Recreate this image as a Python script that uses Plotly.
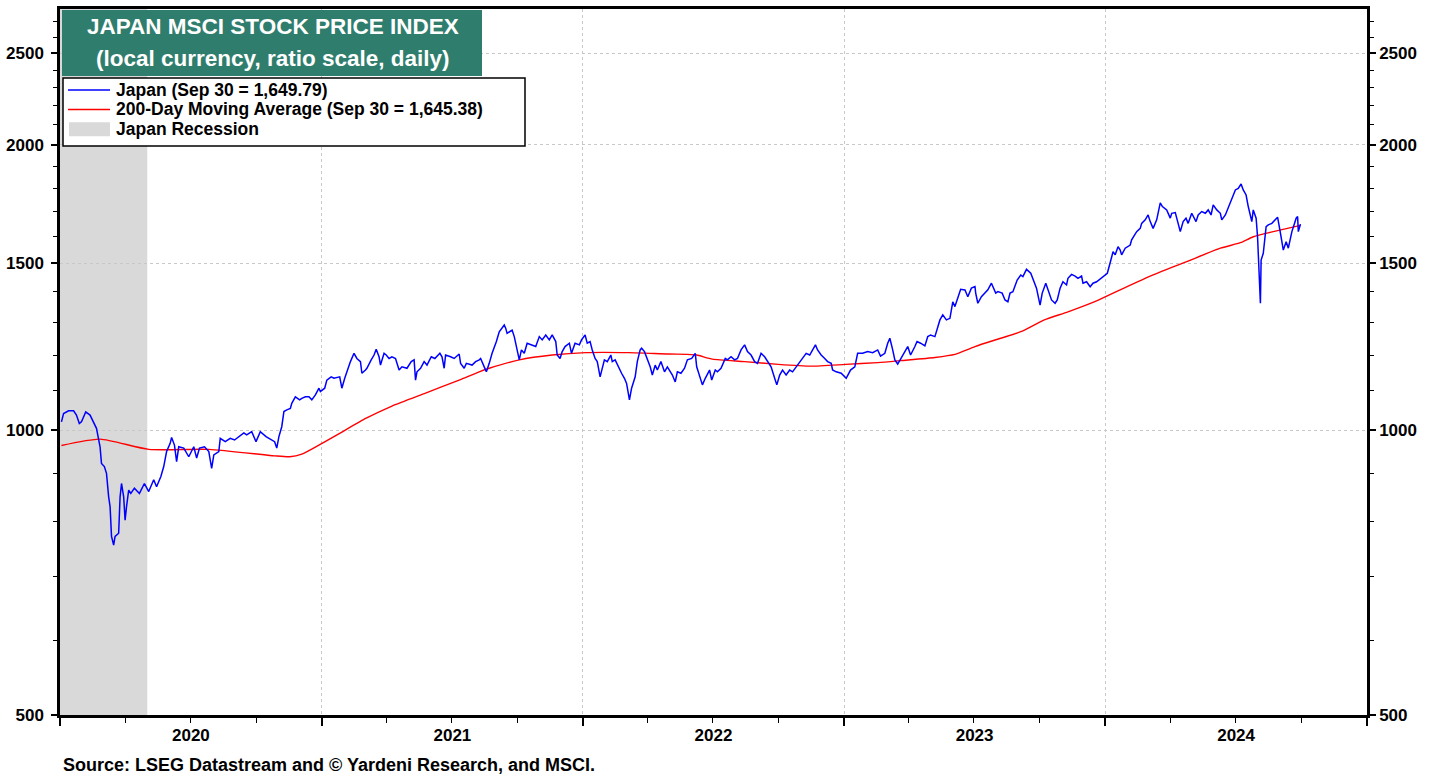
import math
import plotly.graph_objects as go

# ---------------- data ----------------
japan_dates = [
    "2020-01-03","2020-01-06","2020-01-13","2020-01-20","2020-01-24","2020-01-28","2020-01-31","2020-02-06","2020-02-12","2020-02-17",
    "2020-02-21","2020-02-26","2020-02-28","2020-03-03","2020-03-06","2020-03-09","2020-03-11","2020-03-13","2020-03-16","2020-03-18",
    "2020-03-23","2020-03-25","2020-03-27","2020-03-30","2020-04-01","2020-04-03","2020-04-06","2020-04-09","2020-04-14","2020-04-21",
    "2020-04-28","2020-05-04","2020-05-11","2020-05-15","2020-05-21","2020-05-25","2020-05-29","2020-06-03","2020-06-05","2020-06-09",
    "2020-06-12","2020-06-15","2020-06-22","2020-06-29","2020-07-06","2020-07-10","2020-07-14","2020-07-21","2020-07-27","2020-07-31",
    "2020-08-03","2020-08-10","2020-08-12","2020-08-19","2020-08-26","2020-09-01","2020-09-07","2020-09-14","2020-09-18","2020-09-25",
    "2020-10-01","2020-10-07","2020-10-15","2020-10-22","2020-10-27","2020-10-30","2020-11-02","2020-11-06","2020-11-09","2020-11-13",
    "2020-11-18","2020-11-20","2020-11-25","2020-12-01","2020-12-04","2020-12-09","2020-12-14","2020-12-18","2020-12-23","2020-12-28",
    "2020-12-30",
    "2021-01-05","2021-01-08","2021-01-14","2021-01-18","2021-01-26","2021-01-29","2021-02-02","2021-02-05","2021-02-10","2021-02-15",
    "2021-02-19","2021-02-24","2021-02-26","2021-03-03","2021-03-05","2021-03-11","2021-03-15","2021-03-18","2021-03-22","2021-03-24",
    "2021-03-29","2021-04-01","2021-04-05","2021-04-09","2021-04-14","2021-04-19","2021-04-23","2021-04-30","2021-05-06","2021-05-10",
    "2021-05-12","2021-05-14","2021-05-19","2021-05-24","2021-05-28","2021-06-03","2021-06-08","2021-06-15","2021-06-18","2021-06-21",
    "2021-06-23","2021-06-30","2021-07-05","2021-07-12","2021-07-14","2021-07-19","2021-07-22","2021-07-30","2021-08-04","2021-08-09",
    "2021-08-11","2021-08-16","2021-08-19","2021-08-23","2021-08-27","2021-09-02","2021-09-06","2021-09-13","2021-09-15","2021-09-17",
    "2021-09-24","2021-09-27","2021-09-30","2021-10-04","2021-10-07","2021-10-11","2021-10-15","2021-10-22","2021-10-27","2021-11-01",
    "2021-11-05","2021-11-10","2021-11-15","2021-11-19","2021-11-24","2021-11-26","2021-11-30","2021-12-03","2021-12-07","2021-12-13",
    "2021-12-16","2021-12-21","2021-12-27","2021-12-30",
    "2022-01-04","2022-01-07","2022-01-11","2022-01-14","2022-01-18","2022-01-21","2022-01-25","2022-01-31","2022-02-04","2022-02-09",
    "2022-02-11","2022-02-15","2022-02-21","2022-02-24","2022-02-28","2022-03-03","2022-03-07","2022-03-10","2022-03-15","2022-03-18",
    "2022-03-22","2022-03-24","2022-03-28","2022-04-01","2022-04-05","2022-04-08","2022-04-12","2022-04-15","2022-04-20","2022-04-25",
    "2022-04-29","2022-05-06","2022-05-10","2022-05-13","2022-05-18","2022-05-23","2022-05-27","2022-06-02","2022-06-07","2022-06-09",
    "2022-06-13","2022-06-17","2022-06-21","2022-06-27","2022-06-30","2022-07-05","2022-07-08","2022-07-13","2022-07-19","2022-07-22",
    "2022-07-27","2022-08-01","2022-08-05","2022-08-10","2022-08-15","2022-08-19","2022-08-24","2022-08-29","2022-09-02","2022-09-07",
    "2022-09-12","2022-09-16","2022-09-21","2022-09-26","2022-09-29","2022-10-03","2022-10-07","2022-10-12","2022-10-17","2022-10-21",
    "2022-10-26","2022-10-31","2022-11-04","2022-11-09","2022-11-14","2022-11-18","2022-11-22","2022-11-25","2022-11-30","2022-12-05",
    "2022-12-09","2022-12-14","2022-12-16","2022-12-21","2022-12-28",
    "2023-01-04","2023-01-06","2023-01-10","2023-01-16","2023-01-20","2023-01-27","2023-02-03","2023-02-10","2023-02-17","2023-02-21",
    "2023-02-27","2023-03-03","2023-03-06","2023-03-10","2023-03-13","2023-03-17","2023-03-22","2023-03-27","2023-03-31","2023-04-04",
    "2023-04-10","2023-04-13","2023-04-18","2023-04-24","2023-04-28","2023-05-02","2023-05-08","2023-05-11","2023-05-15","2023-05-19",
    "2023-05-24","2023-05-29","2023-06-02","2023-06-05","2023-06-09","2023-06-13","2023-06-19","2023-06-23","2023-06-28","2023-07-03",
    "2023-07-04","2023-07-07","2023-07-12","2023-07-17","2023-07-21","2023-07-26","2023-08-01","2023-08-04","2023-08-10","2023-08-14",
    "2023-08-18","2023-08-21","2023-08-25","2023-08-31","2023-09-05","2023-09-08","2023-09-13","2023-09-19","2023-09-22","2023-09-27",
    "2023-10-02","2023-10-05","2023-10-10","2023-10-13","2023-10-18","2023-10-23","2023-10-26","2023-10-30","2023-11-03","2023-11-08",
    "2023-11-10","2023-11-15","2023-11-20","2023-11-24","2023-11-29","2023-12-01","2023-12-06","2023-12-11","2023-12-15","2023-12-20",
    "2023-12-26","2023-12-29",
    "2024-01-04","2024-01-09","2024-01-12","2024-01-15","2024-01-19","2024-01-22","2024-01-24","2024-01-29","2024-02-01","2024-02-05",
    "2024-02-07","2024-02-13","2024-02-14","2024-02-19","2024-02-21","2024-02-26","2024-03-01","2024-03-04","2024-03-08","2024-03-13",
    "2024-03-18","2024-03-21","2024-03-27","2024-04-01","2024-04-03","2024-04-08","2024-04-11","2024-04-15","2024-04-19","2024-04-23",
    "2024-04-26","2024-05-01","2024-05-07","2024-05-10","2024-05-15","2024-05-20","2024-05-24","2024-05-28","2024-05-31","2024-06-05",
    "2024-06-10","2024-06-12","2024-06-17","2024-06-21","2024-06-26","2024-07-01","2024-07-05","2024-07-09","2024-07-12","2024-07-16",
    "2024-07-19","2024-07-24","2024-07-26","2024-07-30","2024-08-01","2024-08-05","2024-08-06","2024-08-08","2024-08-09","2024-08-13",
    "2024-08-16","2024-08-21","2024-08-26","2024-08-29","2024-09-02","2024-09-06","2024-09-10","2024-09-13","2024-09-18","2024-09-24",
    "2024-09-26","2024-09-27","2024-09-30",
]
japan_values = [
    1020,1041,1048,1048,1037,1016,1020,1045,1037,1016,
    1004,960,922,915,900,850,830,772,756,772,
    778,850,878,850,803,830,864,857,868,857,
    878,861,886,871,893,915,949,968,982,964,
    926,960,957,937,960,934,957,960,949,911,
    941,949,980,972,980,976,984,993,988,996,
    972,996,984,978,972,957,984,1008,1046,1050,
    1054,1067,1084,1076,1080,1084,1084,1076,1089,1107,
    1098,
    1107,1129,1138,1134,1138,1107,1134,1152,1181,1205,
    1190,1181,1148,1157,1162,1186,1200,1217,1195,1171,
    1205,1200,1190,1195,1190,1157,1166,1162,1181,1186,
    1129,1152,1162,1181,1171,1195,1190,1205,1195,1162,
    1200,1195,1190,1203,1176,1162,1176,1171,1181,1186,
    1190,1166,1152,1176,1205,1240,1270,1291,1281,1265,
    1275,1255,1225,1186,1215,1205,1235,1230,1225,1255,
    1245,1260,1245,1260,1240,1200,1190,1210,1225,1235,
    1205,1235,1230,1245,
    1260,1235,1240,1215,1190,1181,1138,1186,1181,1200,
    1181,1186,1157,1148,1134,1120,1076,1107,1138,1181,
    1215,1220,1210,1190,1166,1143,1171,1157,1181,1152,
    1166,1143,1124,1152,1148,1162,1186,1190,1205,1166,
    1138,1116,1134,1157,1129,1157,1152,1162,1190,1186,
    1195,1186,1190,1215,1230,1210,1200,1181,1176,1205,
    1195,1181,1166,1134,1116,1143,1157,1143,1157,1152,
    1166,1181,1190,1205,1200,1215,1230,1215,1200,1190,
    1181,1176,1157,1152,1148,
    1134,1143,1157,1166,1205,1205,1210,1207,1215,1197,
    1205,1235,1250,1215,1186,1174,1190,1210,1225,1200,
    1225,1240,1235,1227,1255,1260,1255,1275,1307,1323,
    1307,1312,1366,1350,1383,1408,1406,1383,1412,1417,
    1395,1361,1383,1395,1406,1429,1395,1400,1395,1372,
    1366,1395,1400,1440,1458,1452,1478,1464,1446,1412,
    1355,1395,1429,1406,1372,1361,1372,1412,1434,1423,
    1446,1460,1454,1446,1454,1429,1434,1417,1429,1434,
    1446,1452,
    1464,1512,1543,1531,1562,1549,1531,1556,1562,1568,
    1588,1614,1620,1633,1653,1667,1687,1660,1633,1667,
    1737,1722,1708,1674,1694,1697,1667,1620,1660,1674,
    1653,1694,1660,1687,1701,1694,1708,1687,1729,1708,
    1694,1667,1687,1716,1750,1793,1800,1819,1793,1771,
    1722,1660,1708,1674,1600,1361,1512,1525,1537,1640,
    1647,1653,1667,1678,1614,1549,1581,1556,1620,1674,
    1681,1620,1650,
]

ma_dates = [
    "2020-01-03","2020-02-26","2020-05-04","2020-07-27","2020-10-27","2020-11-17","2020-12-04","2020-12-28",
    "2021-01-26","2021-03-04","2021-04-09","2021-05-26","2021-07-12","2021-08-09","2021-08-23","2021-10-04",
    "2021-11-19","2022-01-05","2022-03-06","2022-05-01","2022-05-27","2022-06-09","2022-07-01","2022-08-15",
    "2022-10-01","2022-11-16","2023-01-03","2023-02-17","2023-03-22","2023-05-08","2023-06-05","2023-07-03",
    "2023-08-08","2023-09-05","2023-10-08","2023-11-10","2023-12-20","2024-01-22","2024-03-08","2024-04-24",
    "2024-06-10","2024-07-08","2024-07-26","2024-08-23","2024-09-30",
]
ma_values = [
    963,978,954,954,939,937,943,964,
    992,1029,1060,1094,1129,1152,1162,1186,
    1200,1207,1207,1203,1202,1200,1188,1181,
    1173,1168,1173,1178,1184,1193,1202,1225,
    1250,1270,1307,1333,1369,1406,1458,1506,
    1556,1577,1600,1620,1645,
]

recession = ("2019-10-01", "2020-05-02")

y_major = [500, 1000, 1500, 2000, 2500]
y_minor = [v for v in range(600, 2800, 100) if v not in y_major]
x_start, x_end = "2020-01-01", "2025-01-01"
y_min, y_max = 500, 2784

title_lines = ["JAPAN MSCI STOCK PRICE INDEX", "(local currency, ratio scale, daily)"]
legend_labels = ["Japan (Sep 30 = 1,649.79)", "200-Day Moving Average (Sep 30 = 1,645.38)", "Japan Recession"]
source_text = "Source: LSEG Datastream and \u00a9 Yardeni Research, and MSCI."

# ---------------- styling / layout constants ----------------
W, H = 1438, 776
PL, PR, PT, PB = 60, 1367, 9, 715
BLUE, RED, GRAY, TEAL = "#0000ff", "#ff0000", "#d9d9d9", "#2f7d6d"
GRID = "#c8c8c8"
ARIAL = "Arial, Liberation Sans, sans-serif"


def px(x):
    return (x - PL) / (PR - PL)


def py(y):
    return (PB - y) / (PB - PT)


fig = go.Figure()
fig.add_trace(go.Scatter(x=ma_dates, y=ma_values, mode="lines",
                         line=dict(color=RED, width=1.4, shape="spline", smoothing=0.6),
                         name=legend_labels[1], showlegend=False, hoverinfo="skip"))
fig.add_trace(go.Scatter(x=japan_dates, y=japan_values, mode="lines",
                         line=dict(color=BLUE, width=1.5),
                         name=legend_labels[0], showlegend=False))
# companion invisible trace so the right-hand ratio axis is drawn
fig.add_trace(go.Scatter(x=[japan_dates[-1]], y=[japan_values[-1]], yaxis="y2", mode="markers",
                         marker=dict(opacity=0), showlegend=False, hoverinfo="skip"))

shapes = []
# recession shading (clipped to the visible range)
shapes.append(dict(type="rect", xref="x", yref="paper", x0=max(recession[0], x_start), x1=recession[1],
                   y0=0, y1=1, fillcolor=GRAY, line=dict(width=0), layer="below"))
# title box
shapes.append(dict(type="rect", xref="paper", yref="paper", x0=px(62), x1=px(482), y0=py(76), y1=py(10),
                   fillcolor=TEAL, line=dict(width=0), layer="above"))
# legend box
shapes.append(dict(type="rect", xref="paper", yref="paper", x0=px(63), x1=px(525), y0=py(146), y1=py(78),
                   fillcolor="white", line=dict(color="black", width=1.5), layer="above"))
row_y = [90, 109.5, 129.3]
shapes.append(dict(type="line", xref="paper", yref="paper", x0=px(68), x1=px(110), y0=py(row_y[0]), y1=py(row_y[0]),
                   line=dict(color=BLUE, width=1.3), layer="above"))
shapes.append(dict(type="line", xref="paper", yref="paper", x0=px(68), x1=px(110), y0=py(row_y[1]), y1=py(row_y[1]),
                   line=dict(color=RED, width=1.3), layer="above"))
shapes.append(dict(type="rect", xref="paper", yref="paper", x0=px(69), x1=px(110), y0=py(row_y[2] + 7), y1=py(row_y[2] - 7),
                   fillcolor=GRAY, line=dict(width=0), layer="above"))

annotations = []
for txt, yc in zip(title_lines, [26.7, 58.3]):
    annotations.append(dict(text=f"<b>{txt}</b>", xref="paper", yref="paper", x=px(272.5), y=py(yc),
                            xanchor="center", yanchor="middle", showarrow=False,
                            font=dict(family=ARIAL, size=22.5, color="white")))
for txt, yc in zip(legend_labels, row_y):
    annotations.append(dict(text=f"<b>{txt}</b>", xref="paper", yref="paper", x=px(114), y=py(yc),
                            xanchor="left", yanchor="middle", showarrow=False,
                            font=dict(family=ARIAL, size=17.5, color="black")))
annotations.append(dict(text=f"<b>{source_text}</b>", xref="paper", yref="paper", x=px(61), y=py(765),
                        xanchor="left", yanchor="middle", showarrow=False,
                        font=dict(family=ARIAL, size=18, color="black")))

yaxis_common = dict(
    type="log", range=[math.log10(y_min), math.log10(y_max)],
    tickmode="array", tickvals=y_major, ticktext=[str(v) for v in y_major],
    ticks="outside", ticklen=6, tickwidth=1.5, tickcolor="black",
    tickfont=dict(family=ARIAL, size=17, color="black", weight="bold"),
    showline=True, linecolor="black", linewidth=2.5,
    minor=dict(tickmode="array", tickvals=y_minor, ticks="outside", ticklen=4, tickcolor="black", tickwidth=1, showgrid=False),
    zeroline=False, automargin=False,
)

fig.update_layout(
    width=W, height=H,
    margin=dict(l=PL, r=W - PR, t=PT, b=H - PB, autoexpand=False),
    paper_bgcolor="white", plot_bgcolor="white",
    showlegend=False,
    xaxis=dict(
        type="date", range=[x_start, x_end],
        tick0=x_start, dtick="M12", ticklabelmode="period", tickformat="%Y",
        ticks="outside", ticklen=8, tickwidth=1.5, tickcolor="black",
        tickfont=dict(family=ARIAL, size=17, color="black", weight="bold"),
        ticklabelstandoff=-5,
        showgrid=True, gridcolor=GRID, griddash="dot", gridwidth=1.2,
        showline=True, linecolor="black", linewidth=2.5, mirror=True,
        minor=dict(dtick="M3", ticks="outside", ticklen=5, tickcolor="black", tickwidth=1, showgrid=False),
        zeroline=False, automargin=False,
    ),
    yaxis=dict(**yaxis_common, side="left", ticklabelstandoff=4,
               showgrid=True, gridcolor=GRID, griddash="dot", gridwidth=1.2),
    yaxis2=dict(**yaxis_common, side="right", overlaying="y", anchor="x", showgrid=False),
    shapes=shapes,
    annotations=annotations,
)

# the page body has a default 8px margin; remove it so the figure fills the window exactly
fig.write_html("out.html", config={"displayModeBar": False},
               post_script="document.body.style.margin='0px';")
